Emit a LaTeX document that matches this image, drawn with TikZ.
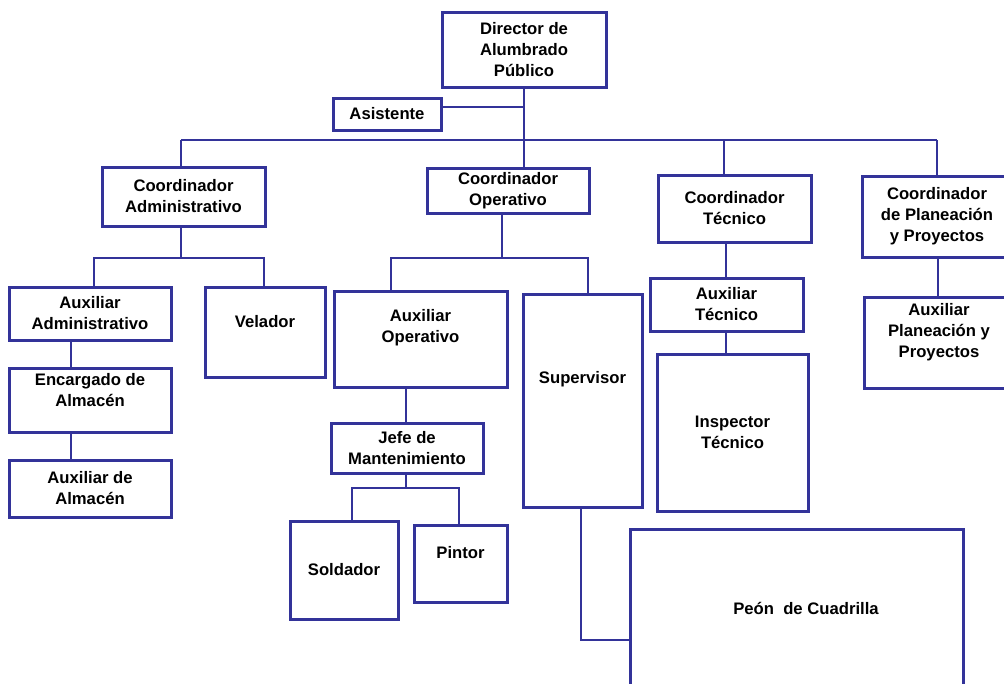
\documentclass[tikz,border=0pt]{standalone}
\usepackage{fontspec}
\setmainfont{Liberation Sans}
\definecolor{bl}{RGB}{51,51,153}
\tikzset{
  lbl/.style={font=\bfseries\fontsize{12.5}{15.75}\selectfont, align=center, text=black},
  box/.style={draw=bl, line width=2.25pt, inner sep=0pt, lbl},
  sz/.style n args={2}{minimum width=#1*0.75pt, minimum height=#2*0.75pt},
  txt/.style={lbl, inner sep=0pt},
  ln/.style={draw=bl, line width=1.5pt}
}
\begin{document}
\begin{tikzpicture}[x=0.75pt,y=-0.75pt]
\useasboundingbox (0,0) rectangle (1004,683);
\clip (0,0) rectangle (1004,683);
% boxes
\node[box,sz={164}{75}] (dir) at (524,49.5) {Director de\\Alumbrado\\Público};
\node[box,sz={108}{32}] (asis) at (387,114) {Asistente};
\node[box,sz={163}{59}] (cadm) at (183.5,196.5) {Coordinador\\Administrativo};
\node[box,sz={162}{53}] (aadm) at (90,313.5) {Auxiliar\\Administrativo};
\node[box,sz={120}{90}] (vel) at (265,332) {};
\node[txt] (velT) at (265,322) {Velador};
\node[box,sz={162}{64}] (enc) at (90,400) {};
\node[txt] (encT) at (90,390) {Encargado de\\Almacén};
\node[box,sz={162}{57}] (aalm) at (90,488.5) {Auxiliar de\\Almacén};
\node[box,sz={162}{45}] (cop) at (508,190.5) {Coordinador\\Operativo};
\node[box,sz={173}{96}] (aop) at (420.5,339) {};
\node[txt] (aopT) at (420.5,328) {Auxiliar\\Operativo};
\node[box,sz={119}{213}] (sup) at (582.5,400.5) {};
\node[txt] (supT) at (582.5,379) {Supervisor};
\node[box,sz={152}{50}] (jefe) at (407,448) {Jefe de\\Mantenimiento};
\node[box,sz={108}{98}] (sold) at (344,570) {Soldador};
\node[box,sz={93}{77}] (pint) at (460.5,563.5) {};
\node[txt] (pintT) at (460.5,552.5) {Pintor};
\node[box,sz={333}{171}] (peon) at (796.5,614.5) {};
\node[txt] (peonT) at (806,608) {Peón\ \ de Cuadrilla};
\node[box,sz={153}{67}] (ctec) at (734.5,208.5) {Coordinador\\Técnico};
\node[box,sz={153}{53}] (atec) at (726.5,304.5) {Auxiliar\\Técnico};
\node[box,sz={151}{157}] (insp) at (732.5,432.5) {Inspector\\Técnico};
\node[box,sz={150}{81}] (cpla) at (937,216.5) {Coordinador\\de Planeación\\y Proyectos};
\node[box,sz={150}{91}] (apla) at (939,342.5) {};
\node[txt] (aplaT) at (939,332) {Auxiliar\\Planeación y\\Proyectos};
% connectors
\coordinate (yAs) at (0,107);
\draw[ln] (dir.south) -- (dir.south |- cop.north);
\draw[ln] (asis.east |- yAs) -- (dir.south |- yAs);
\coordinate (bL) at (181,140);
\coordinate (bR) at (937,140);
\coordinate (bT) at (724,140);
\draw[ln] (bL) -- (bR);
\draw[ln] (bL) -- (bL |- cadm.north);
\draw[ln] (bT) -- (bT |- ctec.north);
\draw[ln] (bR) -- (bR |- cpla.north);
% administrative branch
\coordinate (a1) at (181,258);
\coordinate (a2) at (94,258);
\coordinate (a3) at (264,258);
\draw[ln] (a1 |- cadm.south) -- (a1);
\draw[ln] (a2 |- aadm.north) -- (a2) -- (a3) -- (a3 |- vel.north);
\coordinate (a4) at (71,0);
\draw[ln] (a4 |- aadm.south) -- (a4 |- enc.north);
\draw[ln] (a4 |- enc.south) -- (a4 |- aalm.north);
% operative branch
\coordinate (o1) at (502,258);
\coordinate (o2) at (391,258);
\coordinate (o3) at (588,258);
\draw[ln] (o1 |- cop.south) -- (o1);
\draw[ln] (o2 |- aop.north) -- (o2) -- (o3) -- (o3 |- sup.north);
\coordinate (o4) at (406,0);
\draw[ln] (o4 |- aop.south) -- (o4 |- jefe.north);
\coordinate (j1) at (406,488);
\coordinate (j2) at (352,488);
\coordinate (j3) at (459,488);
\draw[ln] (j1 |- jefe.south) -- (j1);
\draw[ln] (j2 |- sold.north) -- (j2) -- (j3) -- (j3 |- pint.north);
\coordinate (s1) at (581,640);
\draw[ln] (s1 |- sup.south) -- (s1) -- (s1 -| peon.west);
% technical branch
\coordinate (t1) at (726,0);
\draw[ln] (t1 |- ctec.south) -- (t1 |- atec.north);
\draw[ln] (t1 |- atec.south) -- (t1 |- insp.north);
% planning branch
\coordinate (p1) at (938,0);
\draw[ln] (p1 |- cpla.south) -- (p1 |- apla.north);
\end{tikzpicture}
\end{document}
